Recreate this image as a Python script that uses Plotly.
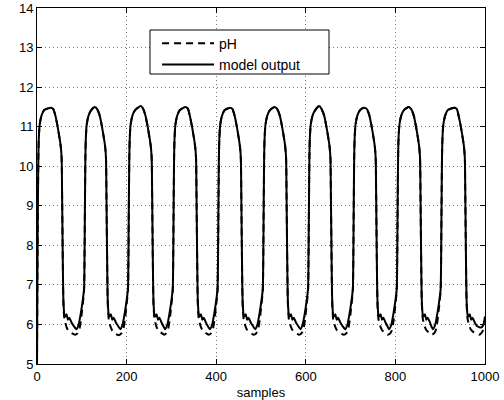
import plotly.graph_objects as go

# ---- data ----
model_x = [
    0, 1, 2, 3, 4, 6, 10, 16, 31, 36, 41, 46, 53, 55, 56, 57, 58, 59, 61, 63, 66, 69, 72, 77, 82, 88, 93, 98, 102, 105, 106,
    107, 108, 109, 111, 115, 121, 129, 134, 140, 145, 152, 154, 155, 156, 157, 158, 160, 162, 165, 168, 171, 176, 181, 186, 191, 196, 200, 203, 204,
    205, 206, 207, 209, 213, 219, 232, 237, 242, 247, 254, 256, 257, 258, 259, 260, 262, 264, 267, 270, 273, 278, 282, 286, 291, 296, 300, 303, 304,
    305, 306, 307, 309, 313, 319, 332, 337, 341, 346, 353, 355, 356, 357, 358, 359, 361, 363, 366, 369, 372, 377, 381, 386, 391, 396, 400, 403, 404,
    405, 406, 407, 409, 413, 419, 431, 436, 441, 446, 453, 455, 456, 457, 458, 459, 461, 463, 466, 469, 472, 477, 482, 487, 492, 497, 501, 504, 505,
    506, 507, 508, 510, 514, 520, 531, 536, 542, 547, 554, 556, 557, 558, 559, 560, 562, 564, 567, 570, 573, 578, 583, 588, 593, 598, 602, 605, 606,
    607, 608, 609, 611, 615, 621, 630, 635, 641, 646, 653, 655, 656, 657, 658, 659, 661, 663, 666, 669, 672, 677, 682, 688, 693, 698, 702, 705, 706,
    707, 708, 709, 711, 715, 721, 730, 736, 742, 747, 754, 756, 757, 758, 759, 760, 762, 764, 767, 770, 773, 778, 782, 786, 791, 796, 800, 803, 804,
    805, 806, 807, 809, 813, 819, 830, 835, 841, 846, 853, 855, 856, 857, 858, 859, 861, 863, 866, 869, 872, 877, 880, 884, 889, 894, 898, 901, 902,
    903, 904, 905, 907, 911, 917, 932, 937, 941, 946, 953, 955, 956, 957, 958, 959, 961, 963, 966, 969, 972, 977, 982, 991, 996, 1000,
]
model_y = [
    5.0, 7.4, 9.0, 10.2, 10.7, 11.05, 11.28, 11.42, 11.48, 11.45, 11.28, 11.0, 10.5, 10.2, 9.3, 8.2, 7.2, 6.6, 6.25, 6.2, 6.26, 6.12, 6.17, 6.05, 5.96, 5.88, 6.0, 6.3, 6.6, 6.9, 7.6,
    9.0, 10.2, 10.7, 11.05, 11.28, 11.42, 11.5, 11.45, 11.28, 11.0, 10.5, 10.2, 9.3, 8.2, 7.2, 6.6, 6.25, 6.2, 6.26, 6.12, 6.17, 6.05, 5.96, 5.88, 6.0, 6.3, 6.6, 6.9, 7.6,
    9.0, 10.2, 10.7, 11.05, 11.28, 11.42, 11.52, 11.45, 11.28, 11.0, 10.5, 10.2, 9.3, 8.2, 7.2, 6.6, 6.25, 6.2, 6.26, 6.12, 6.17, 6.05, 5.96, 5.88, 6.0, 6.3, 6.6, 6.9, 7.6,
    9.0, 10.2, 10.7, 11.05, 11.28, 11.42, 11.5, 11.45, 11.28, 11.0, 10.5, 10.2, 9.3, 8.2, 7.2, 6.6, 6.25, 6.2, 6.26, 6.12, 6.17, 6.05, 5.96, 5.88, 6.0, 6.3, 6.6, 6.9, 7.6,
    9.0, 10.2, 10.7, 11.05, 11.28, 11.42, 11.48, 11.45, 11.28, 11.0, 10.5, 10.2, 9.3, 8.2, 7.2, 6.6, 6.25, 6.2, 6.26, 6.12, 6.17, 6.05, 5.96, 5.88, 6.0, 6.3, 6.6, 6.9, 7.6,
    9.0, 10.2, 10.7, 11.05, 11.28, 11.42, 11.5, 11.45, 11.28, 11.0, 10.5, 10.2, 9.3, 8.2, 7.2, 6.6, 6.25, 6.2, 6.26, 6.12, 6.17, 6.05, 5.96, 5.88, 6.0, 6.3, 6.6, 6.9, 7.6,
    9.0, 10.2, 10.7, 11.05, 11.28, 11.42, 11.52, 11.45, 11.28, 11.0, 10.5, 10.2, 9.3, 8.2, 7.2, 6.6, 6.25, 6.2, 6.26, 6.12, 6.17, 6.05, 5.96, 5.88, 6.0, 6.3, 6.6, 6.9, 7.6,
    9.0, 10.2, 10.7, 11.05, 11.28, 11.42, 11.48, 11.45, 11.28, 11.0, 10.5, 10.2, 9.3, 8.2, 7.2, 6.6, 6.25, 6.2, 6.26, 6.12, 6.17, 6.05, 5.96, 5.88, 6.0, 6.3, 6.6, 6.9, 7.6,
    9.0, 10.2, 10.7, 11.05, 11.28, 11.42, 11.5, 11.45, 11.28, 11.0, 10.5, 10.2, 9.3, 8.2, 7.2, 6.6, 6.25, 6.2, 6.26, 6.12, 6.17, 6.05, 5.96, 5.88, 6.0, 6.3, 6.6, 6.9, 7.6,
    9.0, 10.2, 10.7, 11.05, 11.28, 11.42, 11.48, 11.45, 11.28, 11.0, 10.5, 10.2, 9.3, 8.2, 7.2, 6.6, 6.25, 6.2, 6.26, 6.12, 6.17, 6.05, 5.96, 5.92, 5.98, 6.2,
]

ph_x = [
    0, 1, 2, 3, 4, 6, 10, 16, 31, 36, 41, 46, 53, 55, 56, 57, 58, 59, 61, 63, 66, 69, 75, 81, 85, 90, 94, 98, 102, 105, 106,
    107, 108, 109, 111, 115, 121, 129, 134, 140, 145, 152, 154, 155, 156, 157, 158, 160, 162, 165, 168, 174, 179, 183, 188, 192, 196, 200, 203, 204,
    205, 206, 207, 209, 213, 219, 232, 237, 242, 247, 254, 256, 257, 258, 259, 260, 262, 264, 267, 270, 276, 281, 284, 288, 292, 296, 300, 303, 304,
    305, 306, 307, 309, 313, 319, 332, 337, 341, 346, 353, 355, 356, 357, 358, 359, 361, 363, 366, 369, 375, 380, 383, 388, 392, 396, 400, 403, 404,
    405, 406, 407, 409, 413, 419, 431, 436, 441, 446, 453, 455, 456, 457, 458, 459, 461, 463, 466, 469, 475, 480, 484, 489, 493, 497, 501, 504, 505,
    506, 507, 508, 510, 514, 520, 531, 536, 542, 547, 554, 556, 557, 558, 559, 560, 562, 564, 567, 570, 576, 581, 585, 590, 594, 598, 602, 605, 606,
    607, 608, 609, 611, 615, 621, 630, 635, 641, 646, 653, 655, 656, 657, 658, 659, 661, 663, 666, 669, 675, 680, 685, 690, 694, 698, 702, 705, 706,
    707, 708, 709, 711, 715, 721, 730, 736, 742, 747, 754, 756, 757, 758, 759, 760, 762, 764, 767, 770, 775, 779, 783, 788, 792, 796, 800, 803, 804,
    805, 806, 807, 809, 813, 819, 830, 835, 841, 846, 853, 855, 856, 857, 858, 859, 861, 863, 866, 869, 874, 878, 881, 886, 890, 894, 898, 901, 902,
    903, 904, 905, 907, 911, 917, 932, 937, 941, 946, 953, 955, 956, 957, 958, 959, 961, 963, 966, 969, 975, 981, 987, 993, 1000,
]
ph_y = [
    5.0, 7.4, 9.0, 10.2, 10.7, 11.05, 11.28, 11.42, 11.48, 11.45, 11.28, 11.0, 10.5, 10.2, 9.3, 8.2, 7.2, 6.5, 6.15, 6.05, 5.93, 5.86, 5.8, 5.76, 5.74, 5.77, 5.85, 6.1, 6.5, 6.85, 7.6,
    9.0, 10.2, 10.7, 11.05, 11.28, 11.42, 11.5, 11.45, 11.28, 11.0, 10.5, 10.2, 9.3, 8.2, 7.2, 6.5, 6.15, 6.02, 5.92, 5.84, 5.77, 5.74, 5.73, 5.77, 5.85, 6.1, 6.5, 6.85, 7.6,
    9.0, 10.2, 10.7, 11.05, 11.28, 11.42, 11.52, 11.45, 11.28, 11.0, 10.5, 10.2, 9.3, 8.2, 7.2, 6.5, 6.15, 6.05, 5.93, 5.86, 5.8, 5.76, 5.74, 5.77, 5.85, 6.1, 6.5, 6.85, 7.6,
    9.0, 10.2, 10.7, 11.05, 11.28, 11.42, 11.5, 11.45, 11.28, 11.0, 10.5, 10.2, 9.3, 8.2, 7.2, 6.5, 6.15, 6.05, 5.93, 5.86, 5.8, 5.76, 5.74, 5.77, 5.85, 6.1, 6.5, 6.85, 7.6,
    9.0, 10.2, 10.7, 11.05, 11.28, 11.42, 11.48, 11.45, 11.28, 11.0, 10.5, 10.2, 9.3, 8.2, 7.2, 6.5, 6.15, 6.05, 5.93, 5.86, 5.8, 5.76, 5.74, 5.77, 5.85, 6.1, 6.5, 6.85, 7.6,
    9.0, 10.2, 10.7, 11.05, 11.28, 11.42, 11.5, 11.45, 11.28, 11.0, 10.5, 10.2, 9.3, 8.2, 7.2, 6.5, 6.15, 6.05, 5.93, 5.86, 5.8, 5.76, 5.74, 5.77, 5.85, 6.1, 6.5, 6.85, 7.6,
    9.0, 10.2, 10.7, 11.05, 11.28, 11.42, 11.52, 11.45, 11.28, 11.0, 10.5, 10.2, 9.3, 8.2, 7.2, 6.5, 6.15, 6.05, 5.93, 5.86, 5.8, 5.76, 5.74, 5.77, 5.85, 6.1, 6.5, 6.85, 7.6,
    9.0, 10.2, 10.7, 11.05, 11.28, 11.42, 11.48, 11.45, 11.28, 11.0, 10.5, 10.2, 9.3, 8.2, 7.2, 6.5, 6.15, 6.05, 5.93, 5.86, 5.8, 5.76, 5.74, 5.77, 5.85, 6.1, 6.5, 6.85, 7.6,
    9.0, 10.2, 10.7, 11.05, 11.28, 11.42, 11.5, 11.45, 11.28, 11.0, 10.5, 10.2, 9.3, 8.2, 7.2, 6.5, 6.15, 6.05, 5.93, 5.86, 5.8, 5.76, 5.74, 5.77, 5.85, 6.1, 6.5, 6.85, 7.6,
    9.0, 10.2, 10.7, 11.05, 11.28, 11.42, 11.48, 11.45, 11.28, 11.0, 10.5, 10.2, 9.3, 8.2, 7.2, 6.5, 6.15, 6.05, 5.93, 5.86, 5.8, 5.76, 5.74, 5.8, 5.95,
]

x_ticks = [0, 200, 400, 600, 800, 1000]
y_ticks = [5, 6, 7, 8, 9, 10, 11, 12, 13, 14]
series_names = ["pH", "model output"]
x_title = "samples"

FONT = "Liberation Sans, Arial, Helvetica, sans-serif"

fig = go.Figure()
fig.add_trace(go.Scatter(
    x=ph_x, y=ph_y, mode="lines", name=series_names[0],
    line=dict(color="black", width=2, dash="7px,5px", shape="spline", smoothing=0.6),
))
fig.add_trace(go.Scatter(
    x=model_x, y=model_y, mode="lines", name=series_names[1],
    line=dict(color="black", width=2, shape="spline", smoothing=0.6),
))

axis_common = dict(
    showline=True, linecolor="black", linewidth=1, mirror="ticks",
    ticks="inside", ticklen=5, tickcolor="black", tickwidth=1,
    showgrid=True, gridcolor="#777777", gridwidth=1, griddash="1px,3px",
    zeroline=False, automargin=False,
    tickfont=dict(family=FONT, size=13, color="black"),
)

fig.update_xaxes(range=[0, 1000], tickvals=x_ticks, ticktext=[str(v) for v in x_ticks],
                 title=dict(text=x_title, font=dict(family=FONT, size=13, color="black"), standoff=5),
                 **axis_common)
fig.update_yaxes(range=[5, 14], tickvals=y_ticks, ticktext=[str(v) for v in y_ticks], **axis_common)

# legend box (border drawn as a shape to match the wider MATLAB legend)
fig.add_shape(type="rect", xref="paper", yref="paper",
              x0=0.2522, x1=0.6518, y0=0.8146, y1=0.9382,
              line=dict(color="black", width=1), fillcolor="white", layer="above")

fig.update_layout(
    width=504, height=400,
    margin=dict(l=37, r=19, t=8, b=36),
    paper_bgcolor="white", plot_bgcolor="white",
    font=dict(family=FONT, size=13, color="black"),
    showlegend=True,
    legend=dict(x=0.268, y=0.945, xanchor="left", yanchor="top",
                bgcolor="rgba(0,0,0,0)", borderwidth=0, itemwidth=52,
                font=dict(family=FONT, size=14, color="black")),
)

fig.write_html("out.html")
